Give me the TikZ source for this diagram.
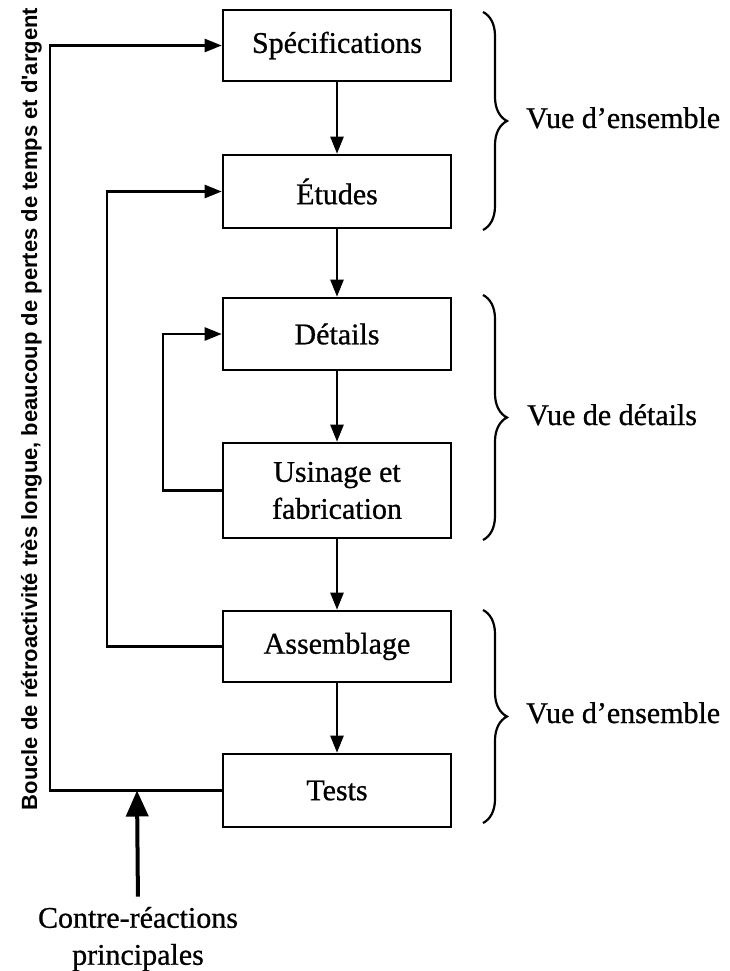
\documentclass[tikz,border=0pt]{standalone}
\usepackage{fontspec}
\setmainfont{Liberation Serif}[FakeBold=0.8]
\newfontfamily\boucle{Liberation Sans}
\usetikzlibrary{arrows.meta,decorations.pathreplacing}
\begin{document}
\begin{tikzpicture}[x=1pt,y=-1pt,
	etape/.style={draw,line width=2.6pt,minimum width=228pt,inner sep=0pt},
	fleche/.style={line width=2.4pt,-{Triangle[length=17pt,width=13pt]}},
	grossefleche/.style={line width=4pt,-{Triangle[length=26pt,width=22pt]}},
	accolade/.style={decorate,decoration={brace,amplitude=24pt},line width=2.2pt},
	vue/.style={anchor=base west,inner sep=0pt}]
		\tikzstyle{every node}=[font=\fontsize{30}{37}\selectfont]
		\useasboundingbox (0,0) rectangle (730,971);
		\node[etape,minimum height=71pt] (spec) at (337,45.5) {Spécifications};
		\node[etape,minimum height=73pt] (etudes) at (337,191.5) {Études};
		\node[etape,minimum height=72pt] (details) at (337,334) {Détails};
		\node[etape,minimum height=95pt,align=center] (usinage) at (337,490.5) {Usinage et\\fabrication};
		\node[etape,minimum height=71pt] (assemblage) at (337,646.5) {Assemblage};
		\node[etape,minimum height=73pt] (tests) at (337,790.5) {Tests};
		\draw[fleche] (spec) -- (etudes);
		\draw[fleche] (etudes) -- (details);
		\draw[fleche] (details) -- (usinage);
		\draw[fleche] (usinage) -- (assemblage);
		\draw[fleche] (assemblage) -- (tests);
		\coordinate (boucleext) at (50,400);
		\coordinate (bouclemoy) at (107,400);
		\coordinate (boucleint) at (163,400);
		\draw[fleche] (tests.west) -| (boucleext) |- (spec.west);
		\draw[fleche] (assemblage.west) -| (bouclemoy) |- (etudes.west);
		\draw[fleche] (usinage.west) -| (boucleint) |- (details.west);
		\node[font=\boucle\bfseries\fontsize{22}{26}\selectfont,rotate=90,anchor=base,inner sep=0pt] (boucletexte) at (37,409) {Boucle de rétroactivité très longue, beaucoup de pertes de temps et d\textquotesingle argent};
		\node[align=center,inner sep=2pt] (contre) at (138,939) {Contre-réactions\\principales};
		\coordinate (jonction) at (137,790.5);
		\draw[grossefleche,shorten <=8pt] (contre.north) -- (jonction);
		\draw[accolade] (483,12) -- (483,230);
		\draw[accolade] (483,295) -- (483,540);
		\draw[accolade] (483,610) -- (483,823);
		\node[vue] (vue1) at (526,128) {Vue d’ensemble};
		\node[vue] (vue2) at (527,425) {Vue de détails};
		\node[vue] (vue3) at (526,723) {Vue d’ensemble};
	\end{tikzpicture}
\end{document}
